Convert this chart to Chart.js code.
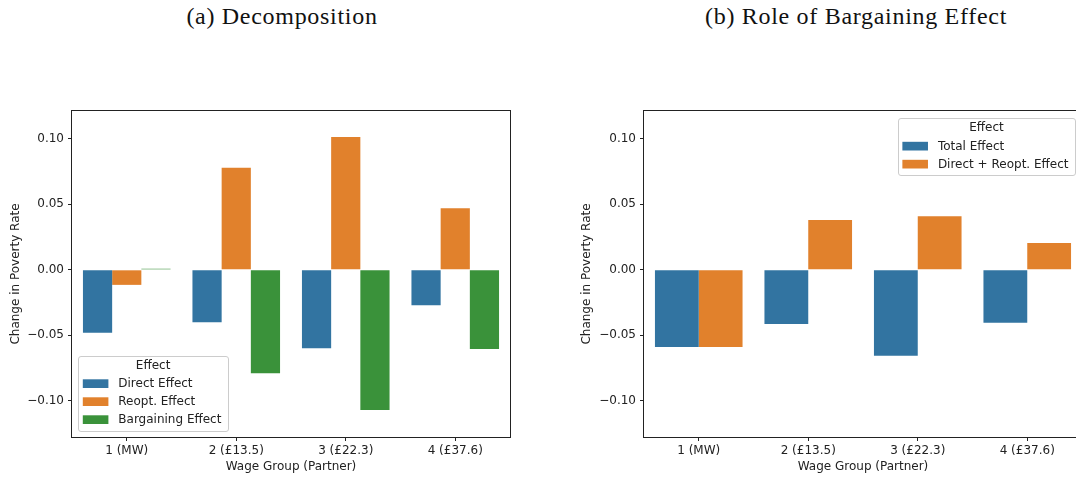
<!DOCTYPE html>
<html>
<head>
<meta charset="utf-8">
<script src="https://cdn.jsdelivr.net/npm/chart.js@4"></script>
<style>
  html, body { margin: 0; padding: 0; background: #fff; overflow: hidden; }
  body { width: 1076px; height: 478px; position: relative; }
  .panel-title {
    position: absolute; top: 3px; width: 400px; text-align: center;
    font-family: "Liberation Serif", serif; font-size: 24px; letter-spacing: 0.7px; color: #111;
  }
  canvas { position: absolute; top: 0; }
</style>
</head>
<body>
<div class="panel-title" style="left:82px">(a) Decomposition</div>
<div class="panel-title" style="left:656px">(b) Role of Bargaining Effect</div>
<canvas id="decompChart" width="540" height="478" style="left:0"></canvas>
<canvas id="roleChart" width="550" height="478" style="left:540px"></canvas>

<script>
const categories = ["1 (MW)", "2 (£13.5)", "3 (£22.3)", "4 (£37.6)"];

// panel (a)
const directEffect = [-0.048, -0.040, -0.060, -0.027];
const reoptEffect = [-0.0115, 0.078, 0.1015, 0.047];
const bargainingEffect = [0.0008, -0.079, -0.107, -0.0604];

// panel (b)
const totalEffect = [-0.059, -0.0413, -0.0657, -0.0405];
const directReoptEffect = [-0.059, 0.038, 0.041, 0.0204];

const yTicks = [-0.10, -0.05, 0.00, 0.05, 0.10];
const yMin = -0.1277;
const yMax = 0.1213;

const BLUE = "#3274a1", ORANGE = "#e1812c", GREEN = "#3a923a";
const INK = "#222";
const FONT = "DejaVu Sans";

Chart.defaults.font.family = FONT;
Chart.defaults.font.size = 12;
Chart.defaults.color = INK;

function fmtTick(v) {
  const s = Math.abs(v).toFixed(2);
  return v < -1e-9 ? "\u2212" + s : s;
}

// box round the plot area, like matplotlib spines
const frame = {
  id: "frame",
  afterDatasetsDraw(chart) {
    const a = chart.chartArea;
    const ctx = chart.ctx;
    ctx.save();
    ctx.strokeStyle = INK;
    ctx.lineWidth = 1;
    ctx.strokeRect(Math.round(a.left) - 0.5, Math.round(a.top) - 0.5,
      Math.round(a.right - a.left) + 1, Math.round(a.bottom - a.top) + 1);
    ctx.restore();
  }
};

// legend box with "Effect" title, placed inside the plot
const legendBox = {
  id: "legendBox",
  afterDraw(chart, args, opts) {
    const ctx = chart.ctx;
    const a = chart.chartArea;
    const ds = chart.data.datasets;
    ctx.save();
    ctx.font = "12px '" + FONT + "'";
    const textW = Math.max(...ds.map(d => ctx.measureText(d.label).width));
    const w = 40 + textW + 6.5;
    const h = 27.5 + 18 * (ds.length - 1) + 11.7;
    const x = opts.corner === "bottomleft" ? a.left + 6.3 : a.right - 7 - w;
    const y = opts.corner === "bottomleft" ? a.bottom - 6 - h : a.top + 7.3;

    ctx.fillStyle = "rgba(255,255,255,0.8)";
    ctx.strokeStyle = "#cccccc";
    ctx.lineWidth = 1;
    ctx.beginPath();
    ctx.roundRect(Math.round(x) + 0.5, Math.round(y) + 0.5, Math.round(w), Math.round(h), 2.5);
    ctx.fill();
    ctx.stroke();

    ctx.fillStyle = INK;
    ctx.textBaseline = "middle";
    ctx.textAlign = "center";
    ctx.fillText("Effect", x + w / 2, y + 9.8);
    ctx.textAlign = "left";
    ds.forEach((d, i) => {
      const cy = y + 27.8 + 18 * i;
      ctx.fillStyle = d.backgroundColor;
      ctx.fillRect(x + 4.5, cy - 4.3, 25.6, 8.7);
      ctx.fillStyle = INK;
      ctx.fillText(d.label, x + 40, cy + 0.5);
    });
    ctx.restore();
  }
};

function makeOptions(yAxisWidth, padding, corner) {
  return {
    responsive: false,
    animation: false,
    devicePixelRatio: 1,
    layout: { padding },
    datasets: { bar: { categoryPercentage: 0.8, barPercentage: 1.0 } },
    plugins: {
      legend: { display: false },
      tooltip: { enabled: false },
      legendBox: { corner }
    },
    scales: {
      x: {
        grid: { drawOnChartArea: false, offset: false, tickLength: 4, color: INK },
        border: { display: false },
        ticks: { padding: 3, color: INK, maxRotation: 0 },
        title: { display: true, text: "Wage Group (Partner)", padding: { top: 0, bottom: 0 }, color: INK },
        afterFit: s => { s.height = 37; }
      },
      y: {
        min: yMin,
        max: yMax,
        grid: { drawOnChartArea: false, tickLength: 4, color: INK },
        border: { display: false },
        ticks: { padding: 4, color: INK, callback: v => fmtTick(v) },
        afterBuildTicks: s => { s.ticks = yTicks.map(v => ({ value: v })); },
        title: { display: true, text: "Change in Poverty Rate", padding: { top: 0, bottom: 0 }, color: INK },
        afterFit: s => { s.width = yAxisWidth; }
      }
    }
  };
}

new Chart(document.getElementById("decompChart"), {
  type: "bar",
  data: {
    labels: categories,
    datasets: [
      { label: "Direct Effect", data: directEffect, backgroundColor: BLUE },
      { label: "Reopt. Effect", data: reoptEffect, backgroundColor: ORANGE },
      { label: "Bargaining Effect", data: bargainingEffect, backgroundColor: GREEN }
    ]
  },
  options: makeOptions(63, { left: 9, right: 30, top: 111, bottom: 4 }, "bottomleft"),
  plugins: [frame, legendBox]
});

new Chart(document.getElementById("roleChart"), {
  type: "bar",
  data: {
    labels: categories,
    datasets: [
      { label: "Total Effect", data: totalEffect, backgroundColor: BLUE },
      { label: "Direct + Reopt. Effect", data: directReoptEffect, backgroundColor: ORANGE }
    ]
  },
  options: makeOptions(64.5, { left: 39.5, right: 8, top: 111, bottom: 4 }, "topright"),
  plugins: [frame, legendBox]
});
</script>
</body>
</html>
